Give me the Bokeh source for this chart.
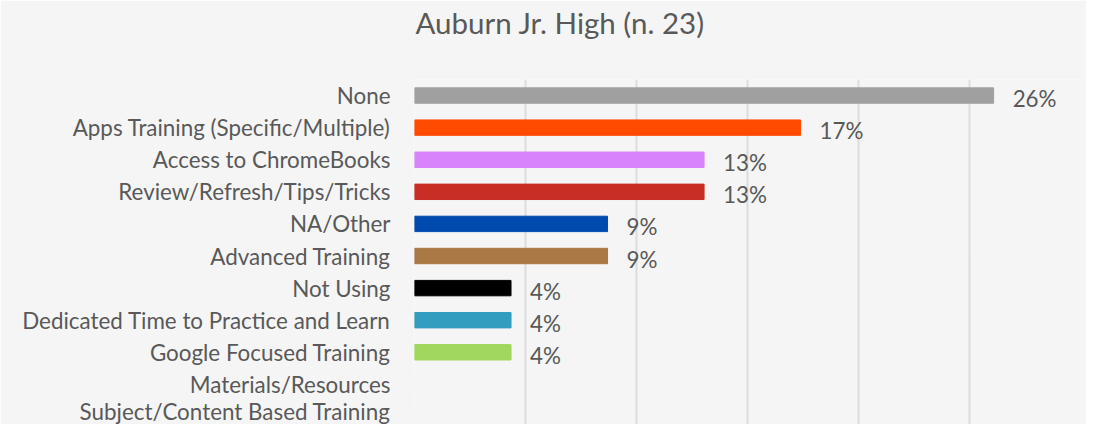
from bokeh.plotting import figure
from bokeh.models import FixedTicker, ColumnDataSource, Range1d, Title
from bokeh.embed import file_html
from bokeh.resources import INLINE

title_text = "Auburn Jr. High (n. 23)"
categories = ["None", "Apps Training (Specific/Multiple)", "Access to ChromeBooks",
              "Review/Refresh/Tips/Tricks", "NA/Other", "Advanced Training", "Not Using",
              "Dedicated Time to Practice and Learn", "Google Focused Training",
              "Materials/Resources", "Subject/Content Based Training"]
counts = [6, 4, 3, 3, 2, 2, 1, 1, 1, 0, 0]
total = 23
labels = ["26%", "17%", "13%", "13%", "9%", "9%", "4%", "4%", "4%", "", ""]
colors = ["#a0a0a0", "#ff4a00", "#d883fb", "#c92e25", "#004aad", "#a97844",
          "#000000", "#339dbf", "#a1d65f", "#f5f5f5", "#f5f5f5"]
grid_ticks = [0, 0.05, 0.10, 0.15, 0.20, 0.25, 0.30]

n = len(categories)
ypos = [n - 1 - i for i in range(n)]
shares = [c / total for c in counts]
src = ColumnDataSource(dict(y=ypos, val=shares, lab=labels, col=colors))

FONT = "Lato"
TXT = "#595959"
BG = "#f5f5f5"

p = figure(width=1086, height=424, y_range=Range1d(-0.25, n - 0.5),
           x_range=Range1d(0, 0.30), output_backend="svg", toolbar_location=None,
           min_border_left=414, min_border_right=6, min_border_top=79,
           min_border_bottom=0)
p.background_fill_color = BG
p.border_fill_color = BG
p.outline_line_color = None

p.hbar(y="y", right="val", left=0, height=0.48, color="col", source=src)
p.text(x="val", y="y", text="lab", source=src, x_offset=19, y_offset=3,
       text_baseline="middle", text_align="left", text_font_size="22.4px",
       text_color=TXT, text_font={"value": FONT})

# spacer between frame and title (inner), then the title itself (outer)
spacer = Title(text=" ", text_font_size="1px", standoff=37)
p.add_layout(spacer, "above")
main_title = Title(text=title_text, align="left", offset=1, standoff=0,
                   text_font=FONT, text_font_size="29.5px",
                   text_font_style="normal", text_color=TXT)
p.add_layout(main_title, "above")

p.xaxis.visible = False
p.xaxis.ticker = FixedTicker(ticks=grid_ticks)
p.xgrid.ticker = FixedTicker(ticks=grid_ticks)
p.xgrid.grid_line_color = "#dcdcdc"
p.xgrid.grid_line_width = 2
p.ygrid.grid_line_color = None

p.yaxis.ticker = FixedTicker(ticks=ypos)
p.yaxis.major_label_overrides = {y: c for y, c in zip(ypos, categories)}
p.yaxis.axis_line_color = None
p.yaxis.major_tick_line_color = None
p.yaxis.minor_tick_line_color = None
p.yaxis.major_tick_out = 0
p.yaxis.major_tick_in = 0
p.yaxis.major_label_standoff = 24
p.yaxis.major_label_text_font = FONT
p.yaxis.major_label_text_font_size = "22.4px"
p.yaxis.major_label_text_color = TXT

open("out.html", "w").write(file_html(p, INLINE))
